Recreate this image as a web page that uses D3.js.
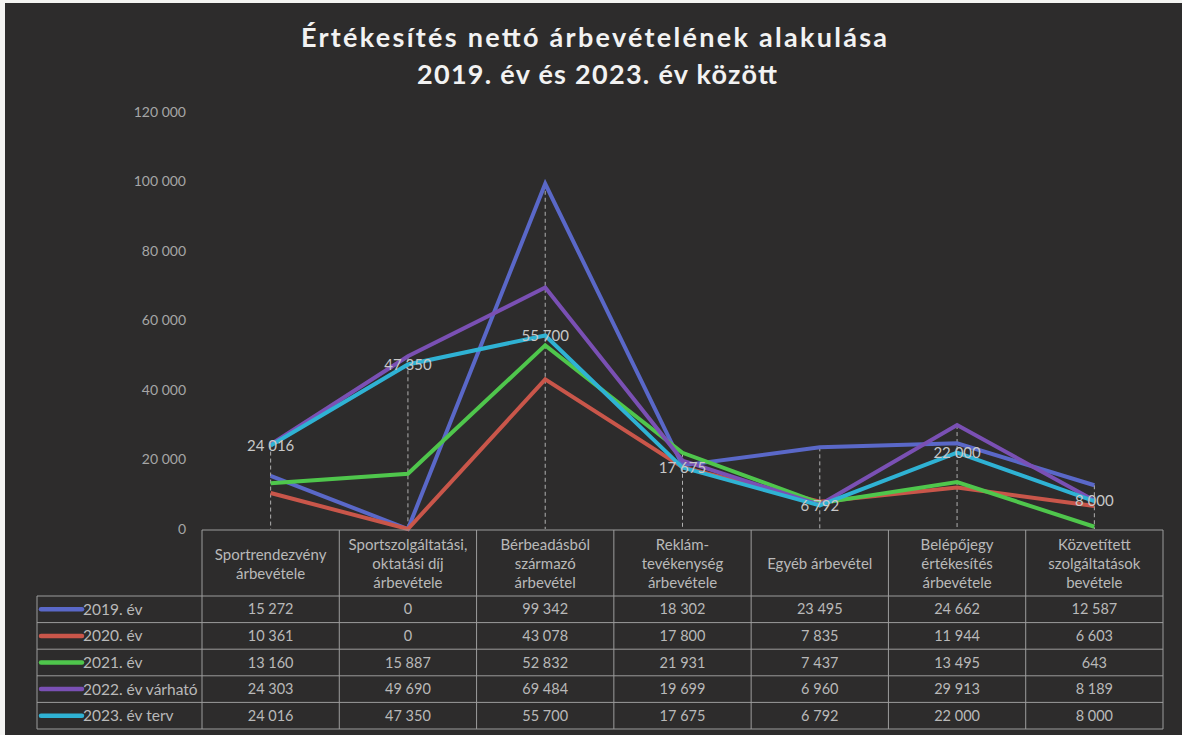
<!DOCTYPE html>
<html>
<head>
<meta charset="utf-8">
<style>
  body { margin: 0; background: #f4f4f2; }
  svg { display: block; }
  text { font-family: Lato, "Open Sans", sans-serif; }
  .tick-label { font-size: 14px; fill: #a6a6a6; }
  .cell { font-size: 14.5px; fill: #b9b9b9; }
  .head { font-size: 15px; fill: #b9b9b9; }
  .title { font-size: 27px; font-weight: bold; fill: #f2f2f2; }
</style>
</head>
<body>
<div id="chart"></div>
<script src="https://d3js.org/d3.v7.min.js"></script>
<script>
  // categories (header lines of the data table)
  const categories = ['Sportrendezvény árbevétele', 'Sportszolgáltatási, oktatási díj árbevétele',
    'Bérbeadásból származó árbevétel', 'Reklám-tevékenység árbevétele', 'Egyéb árbevétel',
    'Belépőjegy értékesítés árbevétele', 'Közvetített szolgáltatások bevétele'];
  const categoryLines = [
    ['Sportrendezvény', 'árbevétele'],
    ['Sportszolgáltatási,', 'oktatási díj', 'árbevétele'],
    ['Bérbeadásból', 'származó', 'árbevétel'],
    ['Reklám-', 'tevékenység', 'árbevétele'],
    ['Egyéb árbevétel'],
    ['Belépőjegy', 'értékesítés', 'árbevétele'],
    ['Közvetített', 'szolgáltatások', 'bevétele']
  ];

  const seriesNames = ['2019. év', '2020. év', '2021. év', '2022. év várható', '2023. év terv'];
  const seriesColors = ['#5a68c8', '#c9564a', '#4fc64c', '#7a50b4', '#2fb2d4'];

  const values2019 = [15272, 0, 99342, 18302, 23495, 24662, 12587];
  const values2020 = [10361, 0, 43078, 17800, 7835, 11944, 6603];
  const values2021 = [13160, 15887, 52832, 21931, 7437, 13495, 643];
  const values2022 = [24303, 49690, 69484, 19699, 6960, 29913, 8189];
  const values2023 = [24016, 47350, 55700, 17675, 6792, 22000, 8000];

  const yTicks = [0, 20000, 40000, 60000, 80000, 100000, 120000];

  const allSeries = [values2019, values2020, values2021, values2022, values2023];
  const labelledSeries = 4; // only the 2023 plan carries data labels

  const width = 1182;
  const height = 735;

  const huLocale = d3.formatLocale({ decimal: ',', thousands: '\u00a0', grouping: [3], currency: ['', ' Ft'] });
  const fmt = huLocale.format(',d');

  const svg = d3.select('#chart')
    .append('svg')
    .attr('width', width)
    .attr('height', height);

  // dark slide background (scan leaves a light strip top/left)
  svg.append('rect')
    .attr('x', 5).attr('y', 3)
    .attr('width', width - 5).attr('height', height - 3)
    .attr('fill', '#2d2c2c');

  const x = d3.scaleBand()
    .domain(categories)
    .range([202, 1163])
    .padding(0);
  const cx = (c) => x(c) + x.bandwidth() / 2;

  const y = d3.scaleLinear()
    .domain([0, 120000])
    .range([529, 112]);

  // title
  const title = svg.append('text')
    .attr('class', 'title')
    .attr('text-anchor', 'middle');
  title.append('tspan').attr('x', 594).attr('y', 47)
    .attr('textLength', 586).attr('lengthAdjust', 'spacing')
    .text('Értékesítés nettó árbevételének alakulása');
  title.append('tspan').attr('x', 597).attr('y', 84)
    .attr('textLength', 360).attr('lengthAdjust', 'spacing')
    .text('2019. év és 2023. év között');

  // y axis labels (no axis line)
  const yAxis = d3.axisLeft(y)
    .tickValues(yTicks)
    .tickFormat(fmt)
    .tickSize(0)
    .tickPadding(0);
  const yg = svg.append('g')
    .attr('transform', 'translate(186, 0)')
    .call(yAxis);
  yg.select('.domain').remove();
  yg.selectAll('text')
    .attr('class', 'tick-label')
    .attr('fill', null)
    .style('font-family', 'Lato, sans-serif')
    .style('font-size', '14px');

  // drop lines from the highest value of each category
  svg.append('g')
    .selectAll('line')
    .data(categories)
    .join('line')
    .attr('x1', (c) => cx(c))
    .attr('x2', (c) => cx(c))
    .attr('y1', (c, i) => y(d3.max(allSeries, (s) => s[i])))
    .attr('y2', y(0))
    .attr('stroke', '#b0b0b0')
    .attr('stroke-width', 1)
    .attr('stroke-dasharray', '4,3');

  // lines
  const line = d3.line()
    .x((d, i) => cx(categories[i]))
    .y((d) => y(d));

  svg.append('g')
    .selectAll('path')
    .data(allSeries)
    .join('path')
    .attr('d', line)
    .attr('fill', 'none')
    .attr('stroke', (d, i) => seriesColors[i])
    .attr('stroke-width', 4)
    .attr('stroke-linejoin', 'miter');

  // data labels of the 2023 series, centred on the points
  svg.append('g')
    .selectAll('text')
    .data(allSeries[labelledSeries])
    .join('text')
    .attr('class', 'cell')
    .attr('x', (d, i) => cx(categories[i]))
    .attr('y', (d) => y(d))
    .attr('dy', '0.35em')
    .attr('text-anchor', 'middle')
    .style('font-size', '15px')
    .style('fill', '#c8c8c8')
    .text(fmt);

  // data table
  const tableTop = 530;
  const headerBottom = 596;
  const rowH = 26.6;
  const legendLeft = 37;
  const tableRight = 1163;
  const grid = svg.append('g')
    .attr('stroke', '#9c9c9c')
    .attr('stroke-width', 1)
    .attr('fill', 'none');

  // header top and verticals
  grid.append('line').attr('x1', x(categories[0])).attr('x2', tableRight)
    .attr('y1', tableTop).attr('y2', tableTop);
  categories.forEach((c) => {
    grid.append('line').attr('x1', x(c)).attr('x2', x(c))
      .attr('y1', tableTop).attr('y2', headerBottom + rowH * seriesNames.length);
  });
  grid.append('line').attr('x1', tableRight).attr('x2', tableRight)
    .attr('y1', tableTop).attr('y2', headerBottom + rowH * seriesNames.length);
  grid.append('line').attr('x1', legendLeft).attr('x2', legendLeft)
    .attr('y1', headerBottom).attr('y2', headerBottom + rowH * seriesNames.length);
  d3.range(seriesNames.length + 1).forEach((r) => {
    grid.append('line').attr('x1', legendLeft).attr('x2', tableRight)
      .attr('y1', headerBottom + r * rowH).attr('y2', headerBottom + r * rowH);
  });

  // header texts
  const lineH = 19;
  categoryLines.forEach((lines, i) => {
    const mid = (tableTop + headerBottom) / 2 + 1;
    const t = svg.append('text')
      .attr('class', 'head')
      .attr('text-anchor', 'middle');
    lines.forEach((ln, k) => {
      t.append('tspan')
        .attr('x', cx(categories[i]))
        .attr('y', mid + (k - (lines.length - 1) / 2) * lineH)
        .attr('dy', '0.35em')
        .text(ln);
    });
  });

  // legend keys + values
  seriesNames.forEach((name, r) => {
    const rowMid = headerBottom + r * rowH + rowH / 2;
    svg.append('line')
      .attr('x1', 41).attr('x2', 82)
      .attr('y1', rowMid).attr('y2', rowMid)
      .attr('stroke', seriesColors[r])
      .attr('stroke-width', 4.5)
      .attr('stroke-linecap', 'round');
    svg.append('text')
      .attr('class', 'cell')
      .attr('x', 83)
      .attr('y', rowMid)
      .attr('dy', '0.35em')
      .style('font-size', '15.5px')
      .text(name);
    allSeries[r].forEach((v, i) => {
      svg.append('text')
        .attr('class', 'cell')
        .attr('x', cx(categories[i]))
        .attr('y', rowMid)
        .attr('dy', '0.35em')
        .attr('text-anchor', 'middle')
        .text(fmt(v));
    });
  });
</script>
</body>
</html>
